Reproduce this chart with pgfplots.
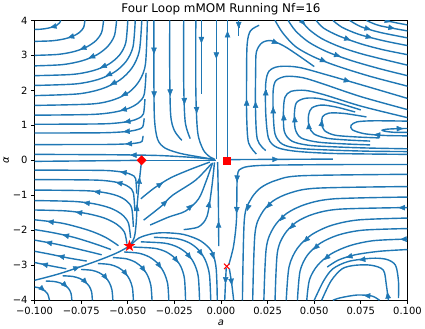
\documentclass[border=0pt]{standalone}
\usepackage{fontspec}
\setmainfont{DejaVu Sans}
\usepackage{pgfplots}
\pgfplotsset{compat=1.18}
\usetikzlibrary{arrows.meta}
\definecolor{mplblue}{RGB}{31,119,180}

% filled five point star and a square diamond, as matplotlib draws them
\pgfdeclareplotmark{fstar}{%
  \pgfpathmoveto{\pgfqpointpolar{90}{\pgfplotmarksize}}%
  \pgfpathlineto{\pgfqpointpolar{126}{0.4\pgfplotmarksize}}%
  \pgfpathlineto{\pgfqpointpolar{162}{\pgfplotmarksize}}%
  \pgfpathlineto{\pgfqpointpolar{198}{0.4\pgfplotmarksize}}%
  \pgfpathlineto{\pgfqpointpolar{234}{\pgfplotmarksize}}%
  \pgfpathlineto{\pgfqpointpolar{270}{0.4\pgfplotmarksize}}%
  \pgfpathlineto{\pgfqpointpolar{306}{\pgfplotmarksize}}%
  \pgfpathlineto{\pgfqpointpolar{342}{0.4\pgfplotmarksize}}%
  \pgfpathlineto{\pgfqpointpolar{18}{\pgfplotmarksize}}%
  \pgfpathlineto{\pgfqpointpolar{54}{0.4\pgfplotmarksize}}%
  \pgfpathclose\pgfusepathqfill}
\pgfdeclareplotmark{rdiam}{%
  \pgfpathmoveto{\pgfqpoint{0pt}{\pgfplotmarksize}}%
  \pgfpathlineto{\pgfqpoint{-\pgfplotmarksize}{0pt}}%
  \pgfpathlineto{\pgfqpoint{0pt}{-\pgfplotmarksize}}%
  \pgfpathlineto{\pgfqpoint{\pgfplotmarksize}{0pt}}%
  \pgfpathclose\pgfusepathqfill}

\pgfplotsset{sl/.style={color=mplblue, line width=1.4bp, smooth}}

% arrow heads: position on a streamline and a short step along the flow
\pgfplotstableread{
x y u v
-0.09155 3.7955 -0.000145 -0.00205
-0.082 3.505 -0.00025 -0.004
-0.0754 3.1755 -0.00034 -0.00665
-0.07065 2.9285 -0.000405 -0.00865
-0.0644 2.6545 -0.00041 -0.00905
-0.06155 2.416 -0.000445 -0.0107
-0.05905 2.1695 -0.000475 -0.01235
-0.05315 1.847 -0.000405 -0.0109
-0.0537 1.4275 -0.0004 -0.00545
-0.05175 1.0965 -0.000335 -0.00265
-0.0521 0.819 -0.00033 -0.0015
-0.05095 0.4695 -0.000285 -0.00075
-0.0475 0.15 -0.00125 0.001
-0.03585 1.85 0.000015 -0.065
-0.03595 3.1 0 -0.065
-0.02725 1.9 0.000025 -0.06
-0.0196 1.65 0.00004 -0.055
-0.013 1.4 0.00005 -0.06
-0.0105 3.4 0 -0.06
-0.0025 3.0 0 -0.1
0.0035 3.6 0 0.1
0.0095 3.78 0 -0.01
0.01375 1.7 -0.000005 0.05
0.01855 1.63 0.000005 0.055
0.0305 3.34 0.00035 -0.008
0.024 2.0 0 0.043
0.0683 2.265 0.00107 -0.0165
0.028 1.5 0 0.03
0.0336 1.3 -0.000025 0.029
0.0395 1.25 -0.00002 0.0225
0.0471 1.06 -0.00001 0.0165
0.05425 1.15 0.000025 0.01
0.0825 0.735 -0.00055 0.0025
0.0975 0.9075 0.00025 0.00025
0.03 0.0275 0.001 0.00025
0.056 2.825 0.0006 -0.0125
0.0635 2.975 0.00065 -0.0125
0.045 3.875 0.0002 -0.0125
0.069 3.445 0.0006 -0.0115
0.0805 3.51 0.00065 -0.009
0.08 3.74 0.0005 -0.008
0.0925 3.775 0.00075 -0.0075
0.091 3.965 0.0003 -0.0035
-0.07665 -3.06 0.000935 0.017
-0.045 -1.29 0.00005 0.03
-0.0437 -0.5 0.00003 0.02
-0.0039 -2.8 0.00011 -0.02
-0.05385 -0.332 -0.000265 0.0021
-0.05615 -0.633 -0.000305 0.0033
-0.06775 -0.895 -0.000525 0.0027
-0.07335 -1.211 -0.000575 0.0036
-0.0774 -1.4855 -0.00058 0.00395
-0.0925 -1.75 -0.00075 0.005
-0.0845 -2.135 -0.00055 0.0065
-0.0935 -2.345 -0.00065 0.0065
-0.087 -2.735 -0.0005 0.0055
-0.096 -2.965 -0.0004 0.0045
-0.09455 -3.7405 0.000145 -0.00695
-0.08245 -3.6335 0.000095 -0.00505
-0.0718 -3.5335 0.00011 -0.00645
-0.061 -3.414 0.00011 -0.0081
-0.05035 -3.3005 0.000125 -0.00965
-0.0407 -3.1875 0.00014 -0.01125
-0.0322 -3.081 0.00016 -0.0127
-0.02315 -2.9175 0.000165 -0.01245
-0.0162 -2.811 0.00018 -0.0137
-0.01005 -2.7185 0.000175 -0.01475
-0.0315 -0.65 0.00045 0.015
-0.029 -1.155 0.0003 0.0155
-0.0155 -1.275 0.00035 0.0175
-0.00625 -1.2 0.000125 0.04
-0.0013 -1.8 -0.00001 0.06
0.0024 -3.5 -0.00002 -0.025
0.0058 -3.55 0.00005 -0.02
0.0086 -0.6 -0.00001 -0.02
0.0084 -1.5 -0.00001 -0.02
0.0141 -1.4245 -0.00016 -0.02825
0.02465 -1.3525 -0.000305 -0.01835
0.03175 -1.7165 -0.000345 -0.01975
0.0371 -1.9485 -0.00032 -0.01775
0.04465 -2.3265 -0.000375 -0.01925
0.0498 -2.54 -0.00034 -0.0168
0.0555 -2.834 -0.00036 -0.0161
0.0675 -2.775 -0.00045 -0.0075
0.097 -1.354 -0.0018 -0.0002
0.097 -2.258 -0.0009 -0.0024
0.07455 -2.845 -0.000615 -0.0045
0.08925 -3.785 -0.000055 0.0215
0.077 -3.865 -0.0004 0.0015
}\arrowtab

\begin{document}
\begin{tikzpicture}
\begin{axis}[
  width=373bp, height=280bp, scale only axis,
  xmin=-0.1, xmax=0.1, ymin=-4, ymax=4,
  xtick={-0.1,-0.075,-0.05,-0.025,0,0.025,0.05,0.075,0.1},
  xticklabels={−0.100,−0.075,−0.050,−0.025,0.000,0.025,0.050,0.075,0.100},
  ytick={-4,-3,-2,-1,0,1,2,3,4},
  yticklabels={−4,−3,−2,−1,0,1,2,3,4},
  tick align=outside, xtick pos=bottom, ytick pos=left,
  major tick length=3.5bp,
  tick style={black, line width=0.8bp},
  axis line style={line width=0.8bp},
  ticklabel style={font=\fontsize{10}{12}\selectfont},
  title={Four Loop mMOM Running Nf=16},
  title style={font=\fontsize{12}{14}\selectfont, yshift=-4bp},
  xlabel={\textit{a}}, ylabel={\textit{α}},
  label style={font=\fontsize{10}{12}\selectfont},
  xlabel style={yshift=2bp}, ylabel style={yshift=-3bp},
]
% top left: down from the top, out to the left
\addplot[sl] coordinates {(-0.086,4) (-0.0865,3.933) (-0.0879,3.87) (-0.0901,3.816) (-0.093,3.775) (-0.0964,3.749) (-0.1,3.74)};
\addplot[sl] coordinates {(-0.073,4) (-0.0737,3.797) (-0.0759,3.656) (-0.0795,3.545) (-0.0845,3.465) (-0.0908,3.416) (-0.1,3.4)};
\addplot[sl] coordinates {(-0.063,4) (-0.064,3.661) (-0.067,3.426) (-0.072,3.242) (-0.0788,3.109) (-0.0875,3.027) (-0.1,3.0)};
\addplot[sl] coordinates {(-0.056,4) (-0.0572,3.559) (-0.0608,3.254) (-0.0666,3.015) (-0.0747,2.842) (-0.0851,2.735) (-0.1,2.7)};
\addplot[sl] coordinates {(-0.05,4) (-0.0511,3.359) (-0.0545,3.005) (-0.0603,2.745) (-0.0685,2.564) (-0.0797,2.456) (-0.1,2.42)};
\addplot[sl] coordinates {(-0.046,4) (-0.0472,3.245) (-0.0509,2.828) (-0.0571,2.523) (-0.066,2.309) (-0.0781,2.183) (-0.1,2.14)};
\addplot[sl] coordinates {(-0.0425,4) (-0.0438,3.127) (-0.0477,2.645) (-0.0543,2.293) (-0.0638,2.046) (-0.0767,1.899) (-0.1,1.85)};
\addplot[sl] coordinates {(-0.0395,4) (-0.0405,2.763) (-0.0437,2.282) (-0.0491,1.956) (-0.0572,1.738) (-0.0692,1.611) (-0.1,1.57)};
\addplot[sl] coordinates {(-0.0402,2.5) (-0.0412,1.884) (-0.0443,1.645) (-0.0497,1.482) (-0.0577,1.373) (-0.0696,1.311) (-0.1,1.29)};
\addplot[sl] coordinates {(-0.0408,1.75) (-0.0416,1.331) (-0.0441,1.204) (-0.0484,1.123) (-0.0551,1.07) (-0.0655,1.04) (-0.1,1.03)};
\addplot[sl] coordinates {(-0.0412,1.2) (-0.042,0.956) (-0.0445,0.882) (-0.0488,0.834) (-0.0554,0.804) (-0.0658,0.786) (-0.1,0.78)};
\addplot[sl] coordinates {(-0.0418,0.7) (-0.0424,0.541) (-0.0445,0.501) (-0.0481,0.477) (-0.0538,0.462) (-0.0629,0.453) (-0.1,0.45)};
\addplot[sl] coordinates {(-0.003,0.02) (-0.01,0.06) (-0.02,0.1) (-0.035,0.14) (-0.06,0.16) (-0.1,0.17)};
% top centre
\addplot[sl] coordinates {(-0.036,4) (-0.036,2.5) (-0.0357,1.2) (-0.034,0.6) (-0.03,0.35) (-0.022,0.2) (-0.012,0.1) (-0.004,0.03)};
\addplot[sl] coordinates {(-0.0275,4) (-0.0275,2.5) (-0.027,1.3) (-0.025,0.85) (-0.021,0.57)};
\addplot[sl] coordinates {(-0.02,4) (-0.02,2.2) (-0.0192,1.1) (-0.0165,0.62)};
\addplot[sl] coordinates {(-0.0135,4) (-0.0135,2) (-0.0125,0.8) (-0.0095,0.3) (-0.006,0.1) (-0.0035,0.04)};
\addplot[sl] coordinates {(-0.0105,4) (-0.0105,2.8) (-0.0105,1.9)};
\addplot[sl] coordinates {(-0.0025,4) (-0.0025,2) (-0.0025,0.06)};
\addplot[sl] coordinates {(0.0035,0.05) (0.0035,2) (0.0035,4)};
\addplot[sl] coordinates {(0.0095,4) (0.0095,3.78) (0.0095,3.55)};
% top right: loops open to the right
\addplot[sl] coordinates {(0.019,0.18) (0.0148,0.5) (0.0138,1.2) (0.0137,2.2) (0.014,3.3) (0.0158,3.7) (0.0205,3.86)};
\addplot[sl] coordinates {(0.024,0.28) (0.0195,0.6) (0.0185,1.5) (0.0186,2.6) (0.019,3.1) (0.022,3.36) (0.027,3.42) (0.034,3.26) (0.042,2.98) (0.05,2.68)};
\addplot[sl] coordinates {(0.1,0.17) (0.08,0.18) (0.058,0.2) (0.04,0.26) (0.03,0.37) (0.0255,0.63) (0.024,1.34) (0.024,2.2) (0.0258,2.55) (0.031,2.68) (0.0415,2.66) (0.0576,2.43) (0.079,2.1) (0.1,1.77)};
\addplot[sl] coordinates {(0.1,0.25) (0.08,0.26) (0.06,0.29) (0.042,0.34) (0.033,0.46) (0.029,0.75) (0.028,1.4) (0.028,2.0) (0.0295,2.28) (0.035,2.4) (0.044,2.36) (0.055,2.18) (0.075,1.82) (0.1,1.45)};
\addplot[sl] coordinates {(0.1,0.33) (0.08,0.35) (0.063,0.38) (0.047,0.43) (0.038,0.55) (0.034,0.82) (0.0335,1.4) (0.0343,1.8) (0.0375,1.97) (0.045,2.0) (0.055,1.88) (0.075,1.55) (0.1,1.22)};
\addplot[sl] coordinates {(0.08,0.44) (0.066,0.47) (0.052,0.52) (0.043,0.64) (0.0398,0.9) (0.0394,1.35) (0.0405,1.65) (0.045,1.77) (0.052,1.77) (0.062,1.65) (0.075,1.44)};
\addplot[sl] coordinates {(0.08,0.55) (0.068,0.58) (0.057,0.63) (0.05,0.75) (0.0472,0.97) (0.047,1.3) (0.0488,1.5) (0.054,1.58) (0.062,1.52) (0.072,1.38)};
\addplot[sl] coordinates {(0.085,0.64) (0.072,0.67) (0.061,0.72) (0.0555,0.85) (0.054,1.05) (0.0545,1.25) (0.058,1.35) (0.066,1.34) (0.078,1.24)};
\addplot[sl] coordinates {(0.1,0.7) (0.088,0.71) (0.077,0.76) (0.0705,0.87) (0.0698,1.0) (0.073,1.1) (0.082,1.13) (0.1,1.12)};
\addplot[sl] coordinates {(0.1,0.8) (0.093,0.8) (0.088,0.83) (0.0865,0.86) (0.089,0.89) (0.095,0.905) (0.1,0.91)};
\addplot[sl] coordinates {(0.004,0.02) (0.02,0.025) (0.04,0.03) (0.06,0.035)};
% top right: in from the top, out at the right
\addplot[sl] coordinates {(0.029,4) (0.033,3.65) (0.04,3.25) (0.05,2.95) (0.062,2.7) (0.08,2.4) (0.1,2.12)};
\addplot[sl] coordinates {(0.036,4) (0.04,3.7) (0.047,3.38) (0.057,3.1) (0.07,2.85) (0.085,2.62) (0.1,2.42)};
\addplot[sl] coordinates {(0.043,4) (0.047,3.75) (0.054,3.48) (0.064,3.24) (0.077,3.02) (0.1,2.72)};
\addplot[sl] coordinates {(0.051,4) (0.055,3.78) (0.063,3.56) (0.075,3.33) (0.087,3.16) (0.1,3.02)};
\addplot[sl] coordinates {(0.06,4) (0.065,3.8) (0.074,3.6) (0.087,3.42) (0.1,3.28)};
\addplot[sl] coordinates {(0.069,4) (0.075,3.82) (0.085,3.66) (0.1,3.5)};
\addplot[sl] coordinates {(0.078,4) (0.085,3.85) (0.1,3.7)};
\addplot[sl] coordinates {(0.088,4) (0.094,3.93) (0.1,3.87)};
% separatrices
\addplot[sl] coordinates {(-0.1,-3.43) (-0.086,-3.23) (-0.0673,-2.89) (-0.056,-2.65) (-0.049,-2.45)};
\addplot[sl] coordinates {(-0.049,-2.45) (-0.0465,-2.2) (-0.0455,-1.8) (-0.045,-1.3) (-0.044,-0.7) (-0.0432,-0.3) (-0.0426,0)};
\addplot[sl] coordinates {(-0.0426,0) (-0.03,0) (-0.015,0) (-0.003,0)};
\addplot[sl] coordinates {(-0.0426,0) (-0.06,-0.01) (-0.08,-0.02) (-0.1,-0.03)};
\addplot[sl] coordinates {(-0.049,-2.45) (-0.044,-2.22) (-0.037,-2.1) (-0.03,-2.07) (-0.02,-2.12) (-0.011,-2.3) (-0.005,-2.6) (-0.0028,-3.0) (-0.0022,-3.5) (-0.002,-4)};
% bottom left: up, then out to the left
\addplot[sl] coordinates {(-0.0452,-0.95) (-0.0458,-0.523) (-0.0478,-0.418) (-0.0512,-0.353) (-0.0565,-0.311) (-0.0651,-0.287) (-0.1,-0.28)};
\addplot[sl] coordinates {(-0.0462,-1.45) (-0.047,-0.926) (-0.0492,-0.768) (-0.0531,-0.666) (-0.0592,-0.6) (-0.0687,-0.563) (-0.1,-0.55)};
\addplot[sl] coordinates {(-0.047,-1.9) (-0.0479,-1.366) (-0.0507,-1.158) (-0.0554,-1.017) (-0.0625,-0.922) (-0.073,-0.868) (-0.1,-0.85)};
\addplot[sl] coordinates {(-0.0485,-2.22) (-0.0497,-1.786) (-0.0532,-1.546) (-0.0591,-1.37) (-0.0676,-1.247) (-0.0791,-1.175) (-0.1,-1.15)};
\addplot[sl] coordinates {(-0.0505,-2.38) (-0.0518,-2.055) (-0.0559,-1.829) (-0.0625,-1.652) (-0.0716,-1.525) (-0.0832,-1.446) (-0.1,-1.42)};
\addplot[sl] coordinates {(-0.055,-2.44) (-0.062,-2.2) (-0.071,-2.0) (-0.085,-1.8) (-0.1,-1.7)};
\addplot[sl] coordinates {(-0.059,-2.55) (-0.068,-2.38) (-0.079,-2.2) (-0.09,-2.07) (-0.1,-1.98)};
\addplot[sl] coordinates {(-0.064,-2.7) (-0.074,-2.57) (-0.087,-2.41) (-0.1,-2.28)};
\addplot[sl] coordinates {(-0.072,-2.88) (-0.082,-2.79) (-0.092,-2.68) (-0.1,-2.6)};
\addplot[sl] coordinates {(-0.083,-3.1) (-0.092,-3.01) (-0.1,-2.92)};
% bottom left: down to the bottom edge
\addplot[sl] coordinates {(-0.1,-3.62) (-0.096,-3.671) (-0.0931,-3.81) (-0.092,-4)};
\addplot[sl] coordinates {(-0.094,-3.45) (-0.0893,-3.465) (-0.086,-3.51) (-0.0834,-3.583) (-0.0815,-3.684) (-0.0804,-3.814) (-0.08,-4)};
\addplot[sl] coordinates {(-0.085,-3.3) (-0.0796,-3.319) (-0.0758,-3.376) (-0.0729,-3.469) (-0.0707,-3.598) (-0.0694,-3.763) (-0.069,-4)};
\addplot[sl] coordinates {(-0.075,-3.12) (-0.0692,-3.144) (-0.0652,-3.216) (-0.0621,-3.333) (-0.0599,-3.495) (-0.0585,-3.702) (-0.058,-4)};
\addplot[sl] coordinates {(-0.066,-2.95) (-0.0596,-2.978) (-0.0551,-3.064) (-0.0516,-3.204) (-0.0491,-3.397) (-0.0475,-3.644) (-0.047,-4)};
\addplot[sl] coordinates {(-0.058,-2.78) (-0.0509,-2.813) (-0.0459,-2.913) (-0.0421,-3.075) (-0.0393,-3.3) (-0.0376,-3.586) (-0.037,-4)};
\addplot[sl] coordinates {(-0.052,-2.62) (-0.0439,-2.657) (-0.0382,-2.77) (-0.0338,-2.954) (-0.0306,-3.208) (-0.0286,-3.532) (-0.028,-4)};
\addplot[sl] coordinates {(-0.047,-2.48) (-0.0356,-2.515) (-0.0294,-2.618) (-0.0248,-2.793) (-0.0215,-3.042) (-0.0196,-3.383) (-0.019,-4)};
\addplot[sl] coordinates {(-0.043,-2.33) (-0.0302,-2.368) (-0.0232,-2.482) (-0.018,-2.674) (-0.0144,-2.948) (-0.0122,-3.322) (-0.0115,-4)};
\addplot[sl] coordinates {(-0.036,-2.2) (-0.0236,-2.241) (-0.0168,-2.364) (-0.0118,-2.571) (-0.0083,-2.866) (-0.0062,-3.269) (-0.0055,-4)};
% bottom centre
\addplot[sl] coordinates {(-0.043,-1.1) (-0.036,-0.8) (-0.027,-0.5) (-0.016,-0.25) (-0.006,-0.05)};
\addplot[sl] coordinates {(-0.0415,-1.71) (-0.032,-1.31) (-0.026,-1.0) (-0.0137,-0.57) (-0.005,-0.09)};
\addplot[sl] coordinates {(-0.038,-1.85) (-0.028,-1.62) (-0.019,-1.45) (-0.012,-1.1) (-0.008,-0.6) (-0.0045,-0.07)};
\addplot[sl] coordinates {(-0.02,-1.98) (-0.012,-1.9) (-0.0075,-1.6) (-0.005,-0.8) (-0.0035,-0.06)};
\addplot[sl] coordinates {(-0.0012,-2.45) (-0.0014,-1.2) (-0.0018,-0.05)};
\addplot[sl] coordinates {(0.0028,-3.08) (0.0024,-3.5) (0.002,-4)};
\addplot[sl] coordinates {(0.0045,-3.1) (0.0058,-3.55) (0.0068,-4)};
% bottom right
\addplot[sl] coordinates {(0.1,-0.12) (0.07,-0.12) (0.04,-0.13) (0.02,-0.15) (0.0115,-0.22) (0.0088,-0.45) (0.0083,-1.7) (0.0067,-2.46) (0.0042,-2.98)};
\addplot[sl] coordinates {(0.1,-0.4) (0.0436,-0.44) (0.0297,-0.569) (0.0211,-0.792) (0.0157,-1.142) (0.0125,-1.707) (0.0115,-4)};
\addplot[sl] coordinates {(0.1,-0.75) (0.0517,-0.795) (0.0371,-0.932) (0.0277,-1.169) (0.0216,-1.536) (0.0182,-2.108) (0.017,-4)};
\addplot[sl] coordinates {(0.1,-1.05) (0.0608,-1.1) (0.0456,-1.254) (0.0352,-1.519) (0.0283,-1.914) (0.0243,-2.498) (0.023,-4)};
\addplot[sl] coordinates {(0.1,-1.35) (0.0639,-1.395) (0.0498,-1.533) (0.0403,-1.771) (0.0339,-2.126) (0.0302,-2.651) (0.029,-4)};
\addplot[sl] coordinates {(0.1,-1.65) (0.0736,-1.704) (0.059,-1.864) (0.0484,-2.134) (0.0409,-2.519) (0.0365,-3.046) (0.035,-4)};
\addplot[sl] coordinates {(0.1,-1.95) (0.076,-1.997) (0.0628,-2.137) (0.0532,-2.372) (0.0464,-2.708) (0.0424,-3.168) (0.041,-4)};
\addplot[sl] coordinates {(0.1,-2.25) (0.0817,-2.297) (0.069,-2.441) (0.0591,-2.673) (0.0519,-2.995) (0.0475,-3.407) (0.046,-4)};
\addplot[sl] coordinates {(0.1,-2.55) (0.085,-2.6) (0.072,-2.7) (0.063,-2.85) (0.057,-3.05)};
\addplot[sl] coordinates {(0.0952,-3.94) (0.0952,-3.46) (0.0936,-3.0) (0.0887,-2.83) (0.0807,-2.8) (0.0684,-2.89) (0.06,-3.1) (0.055,-3.45) (0.05,-4)};
\addplot[sl] coordinates {(0.0898,-4) (0.0887,-3.57) (0.0871,-3.14) (0.0807,-3.0) (0.072,-3.0) (0.065,-3.1) (0.059,-3.45) (0.054,-4)};
\addplot[sl] coordinates {(0.085,-4) (0.081,-3.88) (0.073,-3.85) (0.064,-3.93) (0.06,-4)};
% arrow heads along the streamlines
\addplot[color=mplblue, line width=0.4bp,
  quiver={u=\thisrow{u}, v=\thisrow{v},
    every arrow/.append style={-{Triangle[length=6.5bp,width=5.5bp]}}}]
  table {\arrowtab};
% fixed points
\addplot[only marks, mark=rdiam, mark size=5bp, color=red] coordinates {(-0.0426,0)};
\addplot[only marks, mark=square*, mark size=3.6bp, color=red] coordinates {(0.0032,0)};
\addplot[only marks, mark=fstar, mark size=6.2bp, color=red] coordinates {(-0.0491,-2.45)};
\addplot[only marks, mark=x, mark size=3.8bp, color=red, line width=1.1bp] coordinates {(0.0031,-3.03)};
\end{axis}
\end{tikzpicture}
\end{document}
